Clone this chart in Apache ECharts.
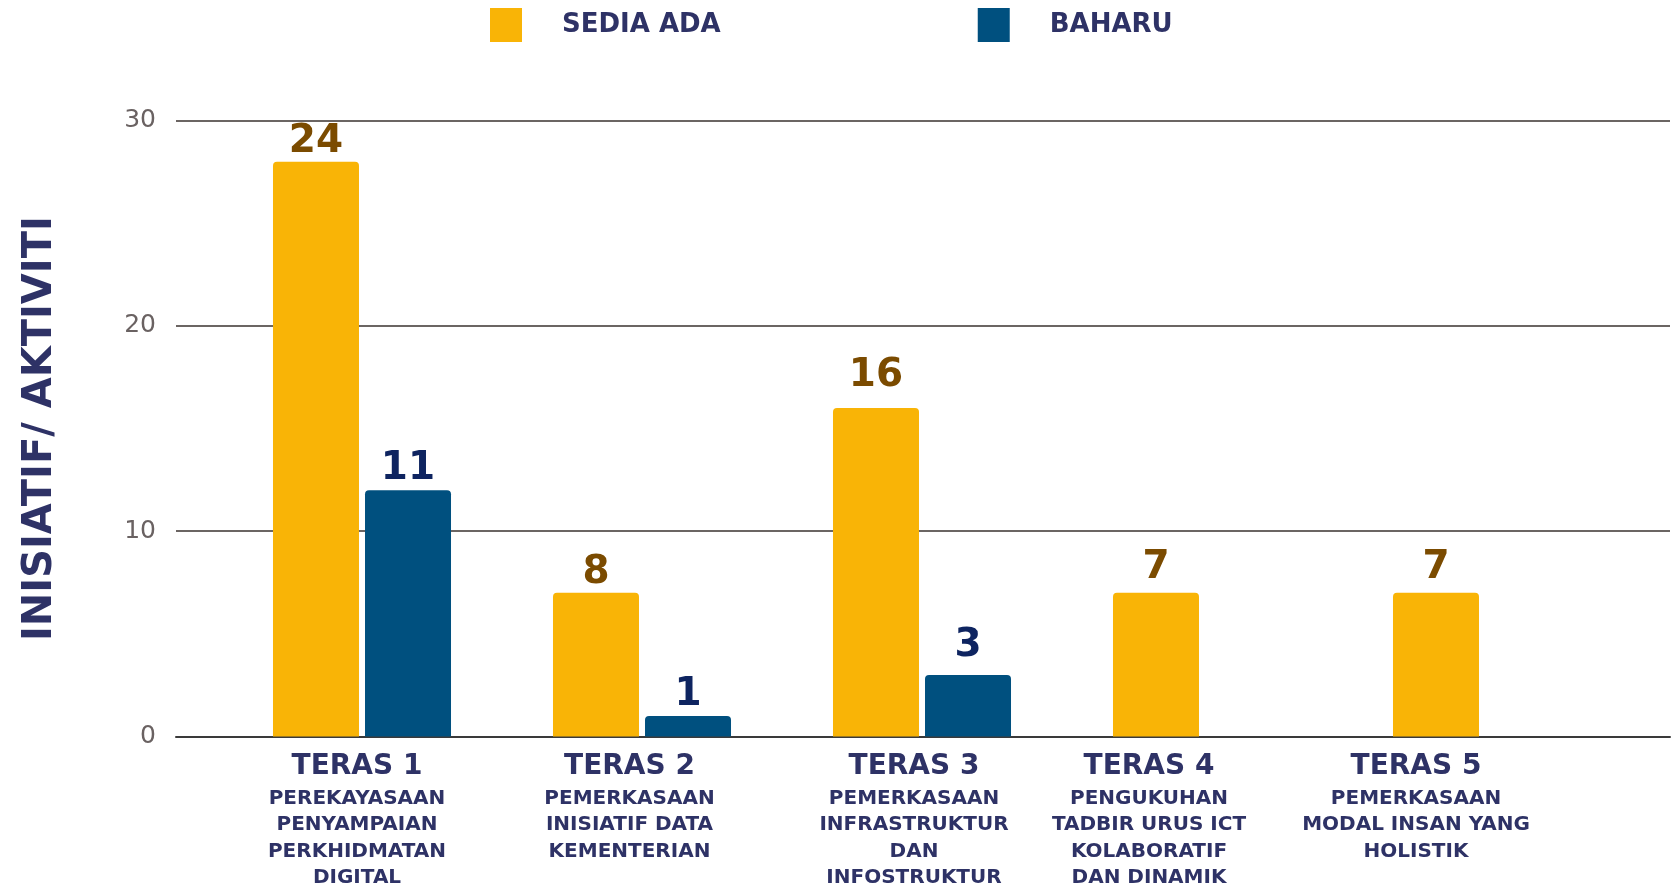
<!DOCTYPE html>
<html>
<head>
<meta charset="utf-8">
<script src="https://cdn.jsdelivr.net/npm/echarts@6/dist/echarts.min.js"></script>
<style>
  html, body { margin: 0; padding: 0; background: #fff; }
  #chart { width: 1673px; height: 886px; }
</style>
</head>
<body>
<div id="chart"></div>
<script>
// kategori (teras) dan huraian
const categories = ["TERAS 1", "TERAS 2", "TERAS 3", "TERAS 4", "TERAS 5"];
const subtitles = [
  ["PEREKAYASAAN", "PENYAMPAIAN", "PERKHIDMATAN", "DIGITAL"],
  ["PEMERKASAAN", "INISIATIF DATA", "KEMENTERIAN"],
  ["PEMERKASAAN", "INFRASTRUKTUR", "DAN", "INFOSTRUKTUR"],
  ["PENGUKUHAN", "TADBIR URUS ICT", "KOLABORATIF", "DAN DINAMIK"],
  ["PEMERKASAAN", "MODAL INSAN YANG", "HOLISTIK"],
];
// tinggi bar seperti dilukis
const sediaAda = [28, 7, 16, 7, 7];
const baharu = [12, 1, 3, null, null];
// nombor yang tertulis di atas bar
const sediaAdaLabels = ["24", "8", "16", "7", "7"];
const baharuLabels = ["11", "1", "3", "", ""];
const yTicks = [0, 10, 20, 30];

// anjakan label paksi (px ke kiri) dan jarak label nilai
const labelShift = [10, 25, 16, 106, 132];
const sediaAdaGap = [0, 0, 13, 5, 5];
const baharuGap = [2, 2, 10, 0, 0];

const FONT = "DejaVu Sans";
const NAVY = "#2E3266";

let chart = echarts.init(document.getElementById("chart"));

function barData(values, gaps) {
  return values.map((v, i) => ({ value: v, label: { distance: gaps[i] } }));
}

let options = {
  animation: false,
  legend: {
    left: 485,
    top: 3,
    itemWidth: 32,
    itemHeight: 34,
    itemGap: 257,
    icon: "rect",
    textStyle: {
      fontFamily: FONT,
      fontWeight: "bold",
      fontSize: 26,
      color: NAVY,
      padding: [0, 0, 0, 35],
    },
    data: ["SEDIA ADA", "BAHARU"],
  },
  grid: [
    { left: 176, right: 3, top: 120.7, bottom: 149.5, outerBoundsMode: "none", containLabel: false },
    { left: 222, right: 51, top: 120.7, bottom: 149.5, outerBoundsMode: "none", containLabel: false },
  ],
  xAxis: [
    {
      type: "category",
      gridIndex: 0,
      data: categories,
      axisTick: { show: false },
      axisLabel: { show: false },
      axisLine: { lineStyle: { color: "#3a3a3a", width: 2 } },
    },
    {
      type: "category",
      gridIndex: 1,
      data: categories.map((c, i) => ({
        value: c,
        textStyle: { padding: [0, labelShift[i], 0, 0] },
      })),
      axisTick: { show: false },
      axisLine: { show: false },
      axisLabel: {
        interval: 0,
        margin: 12,
        formatter: (value, index) =>
          "{t|" + value + "}\n" + subtitles[index].map((s) => "{s|" + s + "}").join("\n"),
        rich: {
          t: { fontFamily: FONT, fontWeight: "bold", fontSize: 28, lineHeight: 37, color: NAVY },
          s: { fontFamily: FONT, fontWeight: "bold", fontSize: 20, lineHeight: 26.5, color: NAVY },
        },
      },
    },
  ],
  yAxis: [
    {
      type: "value",
      gridIndex: 0,
      min: yTicks[0],
      max: yTicks[yTicks.length - 1],
      interval: 10,
      name: "INISIATIF/ AKTIVITI",
      nameLocation: "middle",
      nameRotate: 90,
      nameGap: 115,
      nameTextStyle: { fontFamily: FONT, fontWeight: "bold", fontSize: 40, color: NAVY },
      axisLine: { show: false },
      axisTick: { show: false },
      axisLabel: { margin: 20, fontFamily: FONT, fontSize: 25, color: "#6a6262" },
      splitLine: { lineStyle: { color: "#6b6563", width: 2 } },
    },
    {
      type: "value",
      gridIndex: 1,
      min: yTicks[0],
      max: yTicks[yTicks.length - 1],
      interval: 10,
      show: false,
      splitLine: { show: false },
    },
  ],
  series: [
    {
      name: "SEDIA ADA",
      type: "bar",
      xAxisIndex: 1,
      yAxisIndex: 1,
      data: barData(sediaAda, sediaAdaGap),
      barWidth: 86,
      barGap: "7%",
      itemStyle: { color: "#F9B406", borderRadius: [4, 4, 0, 0] },
      label: {
        show: true,
        position: "top",
        fontFamily: FONT,
        fontWeight: "bold",
        fontSize: 39,
        color: "#7B4B00",
        formatter: (p) => sediaAdaLabels[p.dataIndex],
      },
    },
    {
      name: "BAHARU",
      type: "bar",
      xAxisIndex: 1,
      yAxisIndex: 1,
      data: barData(baharu, baharuGap),
      barWidth: 86,
      itemStyle: { color: "#00507F", borderRadius: [4, 4, 0, 0] },
      label: {
        show: true,
        position: "top",
        fontFamily: FONT,
        fontWeight: "bold",
        fontSize: 39,
        color: "#0E2460",
        formatter: (p) => baharuLabels[p.dataIndex],
      },
    },
  ],
};

chart.setOption(options, true);
</script>
</body>
</html>
